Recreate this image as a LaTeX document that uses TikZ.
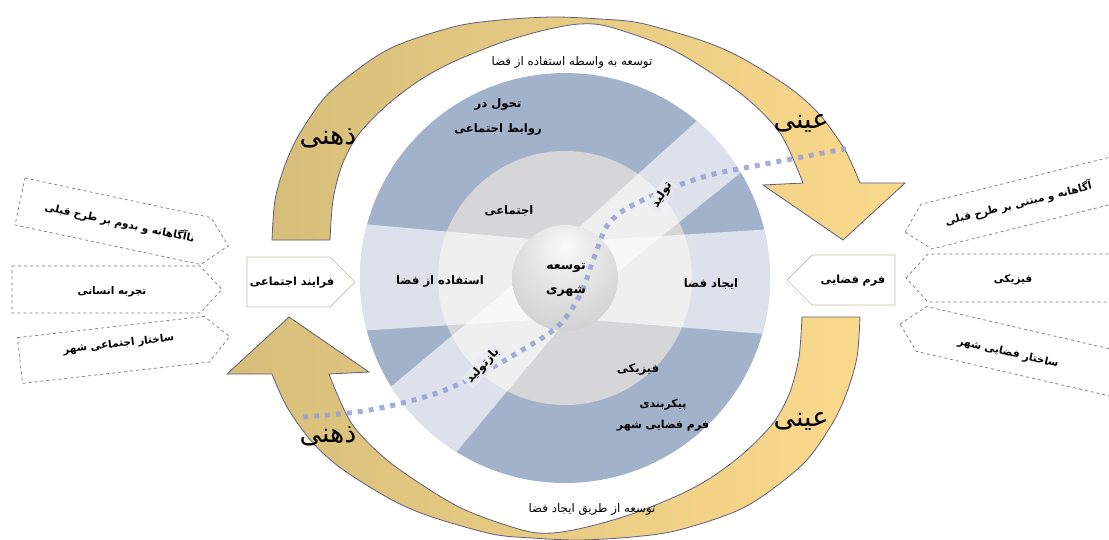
\documentclass[tikz,border=0pt]{standalone}
\usepackage{fontspec}
\TeXXeTstate=1
\newfontfamily\arabicfont[Script=Arabic]{DejaVu Sans}
\newcommand{\fatext}[1]{{\arabicfont\beginR #1\endR}}
\definecolor{ringblue}{RGB}{163,178,203}
\definecolor{discgray}{RGB}{214,214,216}
\definecolor{tanc}{RGB}{214,190,122}
\definecolor{yelc}{RGB}{250,217,140}
\definecolor{arrline}{RGB}{95,95,125}
\definecolor{dotc}{RGB}{150,160,210}
\definecolor{boxline}{RGB}{120,120,120}
\definecolor{mainline}{RGB}{190,190,165}
\definecolor{bandc}{RGB}{232,235,241}
\pgfdeclareradialshading{spherelight}{\pgfpoint{0bp}{16bp}}{color(0bp)=(black!2); color(16bp)=(black!10); color(38bp)=(black!20); color(56bp)=(black!34); color(70bp)=(black!42)}
\tikzset{
  lbl/.style={font=\bfseries\fontsize{10.5}{13}\selectfont, text=black, inner sep=1pt},
  inlbl/.style={font=\bfseries\fontsize{11.6}{13}\selectfont, text=black, inner sep=1pt},
  lblreg/.style={font=\fontsize{11.8}{13}\selectfont, text=black, inner sep=1pt},
  biglbl/.style={font=\fontsize{27}{29}\selectfont, text=black, inner sep=0pt},
  bandlbl/.style={inlbl, fill=bandc, fill opacity=0.9, text opacity=1, inner sep=2pt},
  dbox/.style={draw=boxline, dashed, line width=0.7pt, fill=white},
  mbox/.style={draw=mainline, line width=0.7pt, fill=white},
  arrowbody/.style={draw=arrline, line width=0.8pt, left color=tanc, right color=yelc},
  arrowpath/.style={insert path={
    plot[smooth] coordinates {(272,240) (275,200) (285,165) (300,133) (330,92) (387,50) (453,27) (500,20) (553,17) (600,19) (640,23) (700,40) (740,57) (790,88) (820,115) (845,150) (860,183)}
    -- (905,183) -- (843,240) -- (763,185) --
    plot[smooth] coordinates {(803,183) (780,133) (740,93) (673,50) (610,27) (580,24) (545,30) (500,43) (453,62) (420,80) (387,105) (358,135) (342,165) (333,200) (330,240)}
    -- cycle}},
}
\begin{document}
\begin{tikzpicture}[x=1pt,y=-1pt]
\useasboundingbox (0,0) rectangle (1109,539);
\fill[white] (0,0) rectangle (1109,539);

% big curved arrows
\path[arrowbody, arrowpath];
\begin{scope}[rotate around={180:(566,278.5)}]
  \path[arrowbody, arrowpath];
\end{scope}

% rings
\coordinate (C) at (565,278);
\fill[ringblue] (C) circle (205pt);
\fill[discgray] (C) circle (127pt);
\begin{scope}
  \clip (C) circle (205pt);
  \fill[white, opacity=0.62] (340,222) -- (565,242) -- (790,228) -- (790,336) -- (565,318) -- (340,332) -- cycle;
  \fill[white, opacity=0.62] (800,125) -- (585,298) -- (443,468) -- (375,400) -- (545,258) -- (750,73) -- cycle;
\end{scope}

% central sphere
\node[circle, minimum size=106pt, inner sep=0pt, shading=spherelight] (core) at (C) {};

% dotted S line
\draw[dotc, line width=5pt, dash pattern=on 5pt off 6pt, opacity=0.85]
  plot[smooth, tension=0.6] coordinates {(303,417) (370,410) (437,393) (487,370) (517,353) (557,327) (580,295) (595,255) (610,222) (643,200) (703,177) (760,165) (850,148)};

\node[inlbl, align=center, font=\bfseries\fontsize{12.5}{24}\selectfont] (coretxt) at (566,280) {\fatext{توسعه}\\\fatext{شهری}};

% inner labels
\node[inlbl, align=center, font=\bfseries\fontsize{11.6}{25}\selectfont] (tahavol) at (498,117) {\fatext{تحول در}\\\fatext{روابط اجتماعی}};
\node[inlbl] (ejt) at (509,211) {\fatext{اجتماعی}};
\node[inlbl] (estf) at (440,282) {\fatext{استفاده از فضا}};
\node[inlbl] (ijad) at (711,284) {\fatext{ایجاد فضا}};
\node[inlbl] (fiz) at (638,370) {\fatext{فیزیکی}};
\node[inlbl, align=center, font=\bfseries\fontsize{11}{21}\selectfont] (peyk) at (663,415) {\fatext{پیکربندی}\\\fatext{فرم فضایی شهر}};
\node[bandlbl, rotate=57] (tolid) at (662,195) {\fatext{تولید}};
\node[bandlbl, rotate=48] (baz) at (483,366) {\fatext{بازتولید}};

\node[lblreg] (toptxt) at (572,62) {\fatext{توسعه به واسطه استفاده از فضا}};
\node[lblreg] (bottxt) at (592,509) {\fatext{توسعه از طریق ایجاد فضا}};

% arrow labels
\node[biglbl] (zh1) at (328,138) {\fatext{ذهنی}};
\node[biglbl] (ey1) at (801,123) {\fatext{عینی}};
\node[biglbl] (zh2) at (328,436) {\fatext{ذهنی}};
\node[biglbl] (ey2) at (801,421) {\fatext{عینی}};

% main boxes
\draw[mbox] (247,257) -- (330,257) -- (355,282) -- (330,307) -- (247,307) -- cycle;
\node[lbl, font=\bfseries\fontsize{11.2}{13}\selectfont] (social) at (292,283) {\fatext{فرایند اجتماعی}};
\draw[mbox] (895,255) -- (812,255) -- (787,280) -- (812,305) -- (895,305) -- cycle;
\node[lbl, font=\bfseries\fontsize{11.2}{13}\selectfont] (spatial) at (853,281) {\fatext{فرم فضایی}};

% left dashed boxes
\begin{scope}[shift={(20,201.5)}, rotate=-12]
  \draw[dbox] (0,-24) -- (190,-24) -- (213,0) -- (190,24) -- (0,24) -- cycle;
  \node[lbl, transform shape] (l1) at (102,0) {\fatext{ناآگاهانه و بدوم بر طرح قبلی}};
\end{scope}
\begin{scope}[shift={(12,289.5)}]
  \draw[dbox] (0,-23.5) -- (188,-23.5) -- (210,0) -- (188,23.5) -- (0,23.5) -- cycle;
  \node[lbl] (l2) at (100,2) {\fatext{تجربه انسانی}};
\end{scope}
\begin{scope}[shift={(20,360.5)}, rotate=6.5]
  \draw[dbox] (0,-23) -- (188,-23) -- (211,0) -- (188,23) -- (0,23) -- cycle;
  \node[lbl, transform shape] (l3) at (100,-5) {\fatext{ساختار اجتماعی شهر}};
\end{scope}

% right dashed boxes
\begin{scope}[shift={(905,232)}, rotate=14]
  \draw[dbox] (0,0) -- (22,-23) -- (230,-23) -- (230,23) -- (22,23) -- cycle;
  \node[lbl, transform shape] (r1) at (117,0) {\fatext{آگاهانه و مبتنی بر طرح قبلی}};
\end{scope}
\begin{scope}[shift={(906,278)}]
  \draw[dbox] (0,0) -- (22,-24) -- (215,-24) -- (215,24) -- (22,24) -- cycle;
  \node[lbl] (r2) at (107,2) {\fatext{فیزیکی}};
\end{scope}
\begin{scope}[shift={(900,324)}, rotate=-13]
  \draw[dbox] (0,0) -- (22,-23) -- (230,-23) -- (230,23) -- (22,23) -- cycle;
  \node[lbl, transform shape] (r3) at (112,4) {\fatext{ساختار فضایی شهر}};
\end{scope}
\end{tikzpicture}
\end{document}
